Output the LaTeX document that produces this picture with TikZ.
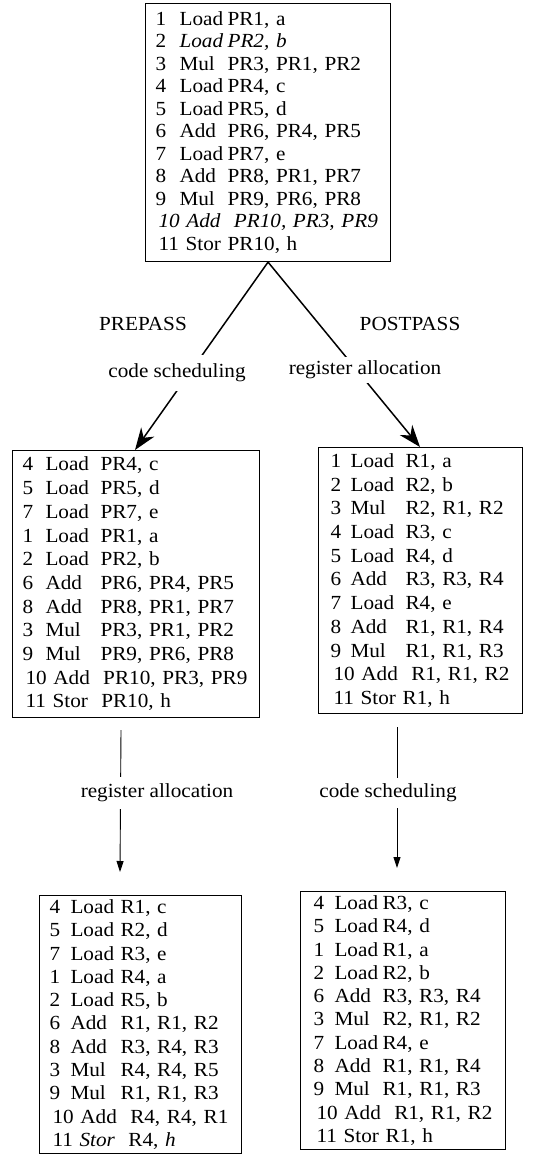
\documentclass[tikz,border=0pt]{standalone}
\usepackage{fontspec}
\setmainfont[FakeStretch=1.06]{Liberation Serif}
\usetikzlibrary{arrows.meta}

\newlength{\numw}
\newlength{\opw}
\newcommand{\cols}[2]{\setlength{\numw}{#1}\setlength{\opw}{#2}}
% one instruction line: number, opcode, operands
\newcommand{\ins}[3]{\mbox{\makebox[\numw][l]{#1}\makebox[\opw][l]{#2}#3}}
\newcommand{\free}[1]{\mbox{\hspace*{3pt}#1}}

\begin{document}
\begin{tikzpicture}[x=1pt, y=-1pt]
    \tikzstyle{code} = [draw, line width=1.1pt, anchor=north west, align=left, inner ysep=2pt]
    \tikzstyle{phase} = [inner xsep=2pt, inner ysep=1pt, font=\fontsize{20}{23}\selectfont]
    \tikzstyle{bigarrow} = [line width=1.5pt, -{Stealth[length=22pt, width=16pt, inset=7pt]}]
    \tikzstyle{smallarrow} = [line width=0.9pt, -{Triangle[length=11pt, width=7pt]}]

    \useasboundingbox (0,0) rectangle (533,1155);

    \node[code, inner xsep=10pt, text width=225pt, minimum height=258pt, font=\fontsize{20}{22.5}\selectfont] (orig) at (145,3) {\cols{24pt}{48pt}%
        \ins{1}{Load}{PR1, a}\\
        \ins{2}{\textit{Load}}{\textit{PR2, b}}\\
        \ins{3}{Mul}{PR3, PR1, PR2}\\
        \ins{4}{Load}{PR4, c}\\
        \ins{5}{Load}{PR5, d}\\
        \ins{6}{Add}{PR6, PR4, PR5}\\
        \ins{7}{Load}{PR7, e}\\
        \ins{8}{Add}{PR8, PR1, PR7}\\
        \ins{9}{Mul}{PR9, PR6, PR8}\\
        \free{\textit{10 Add\ \ PR10, PR3, PR9}}\\
        \free{11 Stor PR10, h}};

    \node[code, inner xsep=10pt, text width=227pt, minimum height=267pt, font=\fontsize{20}{23.7}\selectfont] (sched) at (12,450) {\cols{23pt}{55pt}%
        \ins{4}{Load}{PR4, c}\\
        \ins{5}{Load}{PR5, d}\\
        \ins{7}{Load}{PR7, e}\\
        \ins{1}{Load}{PR1, a}\\
        \ins{2}{Load}{PR2, b}\\
        \ins{6}{Add}{PR6, PR4, PR5}\\
        \ins{8}{Add}{PR8, PR1, PR7}\\
        \ins{3}{Mul}{PR3, PR1, PR2}\\
        \ins{9}{Mul}{PR9, PR6, PR8}\\
        \free{10 Add\ \ PR10, PR3, PR9}\\
        \free{11 Stor\ \ PR10, h}};

    \node[code, inner xsep=12pt, text width=180pt, minimum height=266pt, font=\fontsize{20}{23.7}\selectfont] (alloc) at (318,447) {\cols{20pt}{55pt}%
        \ins{1}{Load}{R1, a}\\
        \ins{2}{Load}{R2, b}\\
        \ins{3}{Mul}{R2, R1, R2}\\
        \ins{4}{Load}{R3, c}\\
        \ins{5}{Load}{R4, d}\\
        \ins{6}{Add}{R3, R3, R4}\\
        \ins{7}{Load}{R4, e}\\
        \ins{8}{Add}{R1, R1, R4}\\
        \ins{9}{Mul}{R1, R1, R3}\\
        \free{10 Add\ \ R1, R1, R2}\\
        \free{11 Stor\ R1, h}};

    \node[code, inner xsep=10pt, text width=182pt, minimum height=258pt, font=\fontsize{20}{23.3}\selectfont] (schedalloc) at (39,895) {\cols{21pt}{50pt}%
        \ins{4}{Load}{R1, c}\\
        \ins{5}{Load}{R2, d}\\
        \ins{7}{Load}{R3, e}\\
        \ins{1}{Load}{R4, a}\\
        \ins{2}{Load}{R5, b}\\
        \ins{6}{Add}{R1, R1, R2}\\
        \ins{8}{Add}{R3, R4, R3}\\
        \ins{3}{Mul}{R4, R4, R5}\\
        \ins{9}{Mul}{R1, R1, R3}\\
        \free{10 Add\ \ R4, R4, R1}\\
        \free{11 \textit{Stor}\ \ R4, \textit{h}}};

    \node[code, inner xsep=13pt, text width=179pt, minimum height=258pt, font=\fontsize{20}{23.3}\selectfont] (allocsched) at (300,891) {\cols{21pt}{48pt}%
        \ins{4}{Load}{R3, c}\\
        \ins{5}{Load}{R4, d}\\
        \ins{1}{Load}{R1, a}\\
        \ins{2}{Load}{R2, b}\\
        \ins{6}{Add}{R3, R3, R4}\\
        \ins{3}{Mul}{R2, R1, R2}\\
        \ins{7}{Load}{R4, e}\\
        \ins{8}{Add}{R1, R1, R4}\\
        \ins{9}{Mul}{R1, R1, R3}\\
        \free{10 Add\ \ R1, R1, R2}\\
        \free{11 Stor\ R1, h}};

    \coordinate (tipL) at (135,450);
    \coordinate (tipR) at (420,447);
    \draw[bigarrow] (orig.south) -- (tipL);
    \draw[bigarrow] (orig.south) -- (tipR);

    \node[phase] (prepass) at (143,324) {PREPASS};
    \node[phase] (postpass) at (410,324) {POSTPASS};
    \node[phase, fill=white, inner ysep=9pt] (cs1) at (177,373) {code scheduling};
    \node[phase, fill=white, inner ysep=4pt] (ra1) at (365,370) {register allocation};

    \coordinate (fromL) at (121,730);
    \coordinate (toL) at (120,872);
    \coordinate (fromR) at (397,727);
    \coordinate (toR) at (397,868);
    \draw[smallarrow] (fromL) -- (toL);
    \draw[smallarrow] (fromR) -- (toR);

    \node[phase, fill=white, inner ysep=7pt] (ra2) at (157,793) {register allocation};
    \node[phase, fill=white, inner ysep=6pt] (cs2) at (388,793) {code scheduling};
\end{tikzpicture}
\end{document}
